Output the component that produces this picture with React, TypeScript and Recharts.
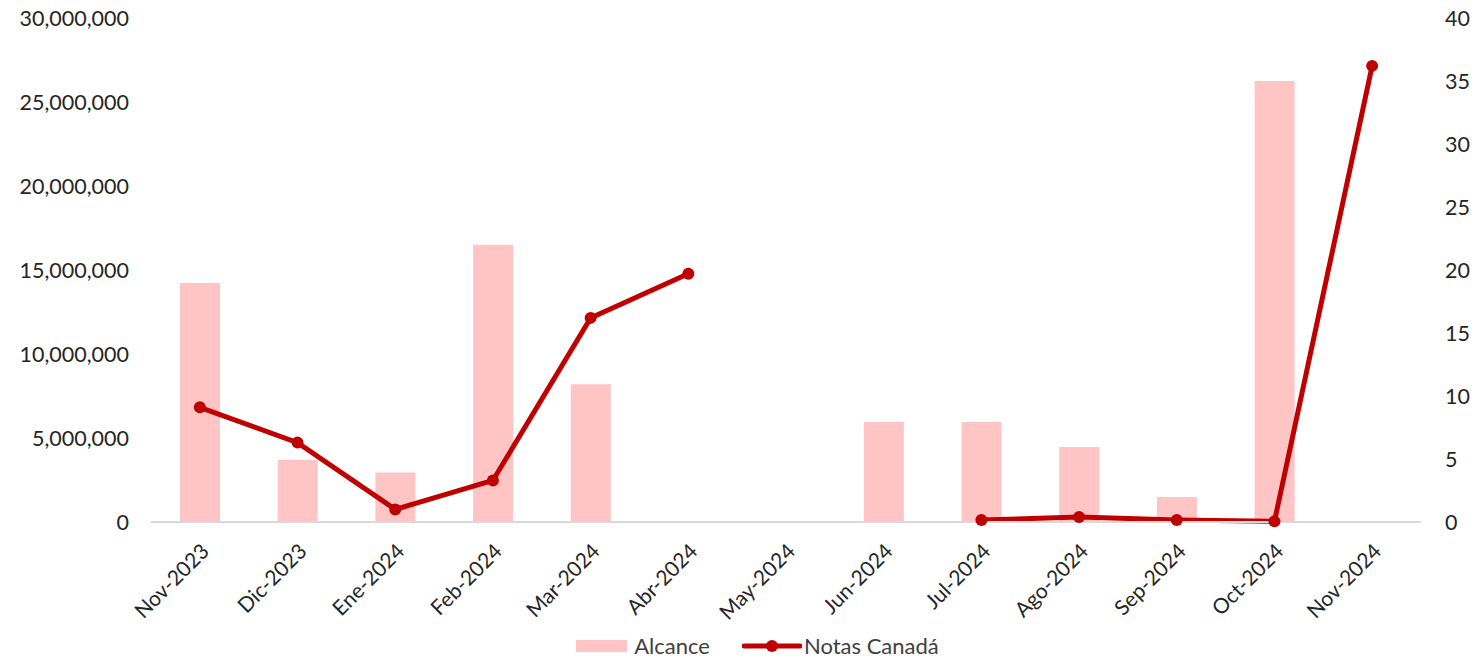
import { ComposedChart, Bar, Line, XAxis, YAxis, Legend } from 'recharts';

const months = [
  'Nov-2023', 'Dic-2023', 'Ene-2024', 'Feb-2024', 'Mar-2024', 'Abr-2024', 'May-2024',
  'Jun-2024', 'Jul-2024', 'Ago-2024', 'Sep-2024', 'Oct-2024', 'Nov-2024',
];
const alcance = [
  14230000, 3700000, 2950000, 16500000, 8200000, 0, 0,
  5950000, 5950000, 4460000, 1490000, 26250000, 0,
];
const notas = [9.1, 6.3, 1.0, 3.3, 16.2, 19.7, null, null, 0.15, 0.4, 0.15, 0.05, 36.2];
const leftTicks = [0, 5000000, 10000000, 15000000, 20000000, 25000000, 30000000];
const rightTicks = [0, 5, 10, 15, 20, 25, 30, 35, 40];

const data = months.map((m, i) => ({ month: m, alcance: alcance[i], notas: notas[i] }));

const FONT = 'Lato, "Open Sans", sans-serif';
const BAR = '#ffc5c5';
const LINE = '#c00000';

function LegendContent() {
  return (
    <div style={{ display: 'flex', justifyContent: 'center', alignItems: 'center', fontFamily: FONT, fontSize: 22, color: '#404040', marginLeft: 32 }}>
      <span style={{ display: 'inline-block', width: 51, height: 12, background: BAR, marginRight: 7 }} />
      <span style={{ marginRight: 32 }}>Alcance</span>
      <svg width={60} height={14} style={{ marginRight: 2 }}>
        <line x1={2} y1={7} x2={58} y2={7} stroke={LINE} strokeWidth={5} strokeLinecap="round" />
        <circle cx={30} cy={7} r={6} fill={LINE} />
      </svg>
      <span>Notas Canadá</span>
    </div>
  );
}

export default function App() {
  return (
    <div style={{ position: 'absolute', left: 0, top: 0, background: '#fff' }}>
      <ComposedChart
        width={1483}
        height={660}
        data={data}
        margin={{ top: 18, right: 0, bottom: 0, left: 0 }}
        barCategoryGap={0}
      >
        <XAxis
          dataKey="month"
          interval={0}
          height={110}
          tickLine={false}
          axisLine={{ stroke: '#d9d9d9', strokeWidth: 2 }}
          tick={{ fontSize: 21, fill: '#262626', fontFamily: FONT }}
          angle={-45}
          textAnchor="end"
          tickMargin={14}
        />
        <YAxis
          yAxisId="left"
          width={151}
          domain={[0, 30000000]}
          ticks={leftTicks}
          tickLine={false}
          axisLine={false}
          tickMargin={16}
          tick={{ fontSize: 21.5, fill: '#262626', fontFamily: FONT }}
          tickFormatter={(v: number) => v.toLocaleString('en-US')}
        />
        <YAxis
          yAxisId="right"
          orientation="right"
          width={62}
          domain={[0, 40]}
          ticks={rightTicks}
          tickLine={false}
          axisLine={false}
          tickMargin={18}
          tick={{ fontSize: 21.5, fill: '#262626', fontFamily: FONT }}
        />
        <Legend verticalAlign="bottom" height={28} content={<LegendContent />} />
        <Bar yAxisId="left" dataKey="alcance" name="Alcance" fill={BAR} barSize={40} isAnimationActive={false} />
        <Line
          yAxisId="right"
          dataKey="notas"
          name="Notas Canadá"
          type="linear"
          stroke={LINE}
          strokeWidth={5}
          dot={{ r: 6, fill: LINE, stroke: LINE, strokeWidth: 0 }}
          activeDot={false}
          connectNulls={false}
          isAnimationActive={false}
        />
      </ComposedChart>
    </div>
  );
}
